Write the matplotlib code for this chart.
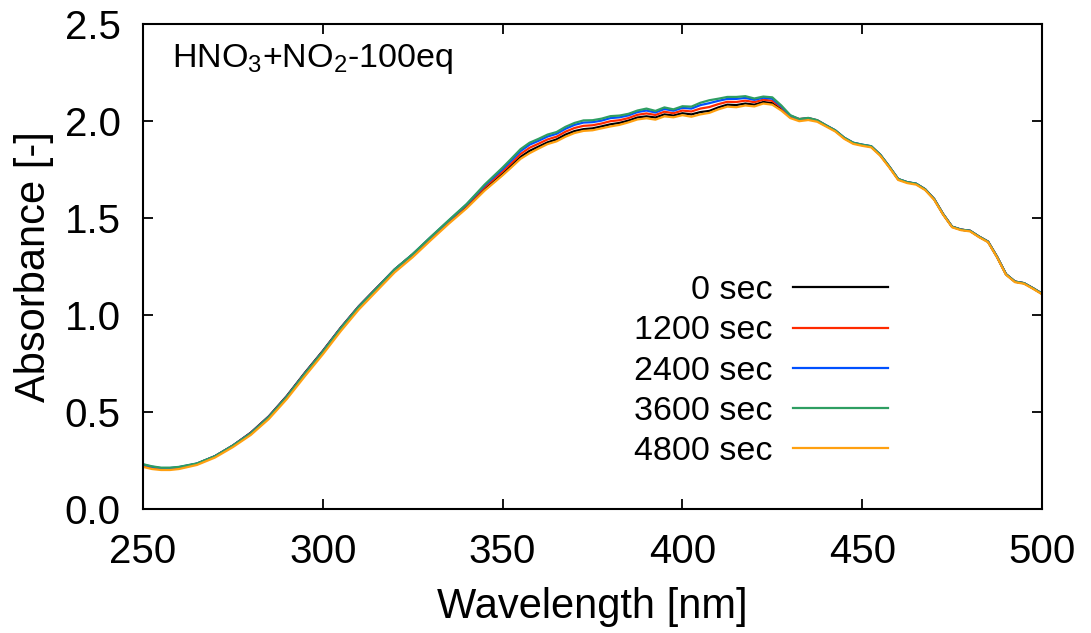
import numpy as np
import matplotlib
matplotlib.use("Agg")
import matplotlib.pyplot as plt
import matplotlib.ticker as ticker

plt.rcParams["font.family"] = ["Liberation Sans", "DejaVu Sans"]
plt.rcParams["mathtext.fontset"] = "custom"
plt.rcParams["mathtext.rm"] = "Liberation Sans"
plt.rcParams["mathtext.it"] = "Liberation Sans:italic"

# ---------------- data ----------------
wavelength = [
    250, 252.5, 255, 257.5, 260, 265, 270, 275, 280, 285, 290, 295, 300,
    305, 310, 315, 320, 325, 330, 335, 340, 345, 350,
    352.5, 355, 357.5, 360, 362.5, 365, 367.5, 370, 372.5, 375, 377.5, 380,
    382.5, 385, 387.5, 390, 392.5, 395, 397.5, 400, 402.5, 405, 407.5, 410,
    412.5, 415, 417.5, 420, 422.5, 425, 427.5,
    430,
    432.5, 435, 437.5, 440,
    442.5, 445, 447.5, 450, 452.5, 455, 457.5, 460, 462.5, 465, 467.5, 470,
    472.5, 475, 477.5, 480, 482.5, 485, 487.5, 490, 492.5, 495, 497.5, 500,
]

# absorbance at 0 sec
abs_0 = [
    0.225, 0.214, 0.208, 0.208, 0.213, 0.233, 0.272, 0.327, 0.394, 0.478, 0.583, 0.702, 0.815,
    0.935, 1.045, 1.140, 1.235, 1.312, 1.398, 1.482, 1.562, 1.652, 1.730,
    1.772, 1.815, 1.846, 1.868, 1.890, 1.905, 1.930, 1.948, 1.958, 1.962, 1.972, 1.983,
    1.990, 2.002, 2.018, 2.024, 2.018, 2.034, 2.028, 2.040, 2.034, 2.046, 2.052, 2.070,
    2.084, 2.082, 2.090, 2.084, 2.098, 2.092, 2.060,
    2.020,
    2.004, 2.010, 2.000, 1.975,
    1.950, 1.912, 1.886, 1.876, 1.868, 1.825, 1.765, 1.700, 1.684, 1.676, 1.648, 1.598,
    1.520, 1.455, 1.440, 1.434, 1.404, 1.378, 1.300, 1.210, 1.172, 1.164, 1.138, 1.110,
]

# gap from the 0 sec curve for the later spectra
diff_1200 = [
    0.002, 0.002, 0.001, 0.001, 0.001, 0.0, 0.0, 0.0,
    -0.002, -0.002, -0.003, -0.003, -0.003, -0.002, -0.001, 0.0, 0.0, 0.0, 0.001, 0.002,
    0.004, 0.007, 0.010,
    0.012, 0.015, 0.016, 0.015, 0.015, 0.014, 0.015, 0.016, 0.017, 0.016, 0.015, 0.016,
    0.014, 0.013, 0.014, 0.015, 0.013, 0.014, 0.012, 0.014, 0.015, 0.018, 0.020, 0.017,
    0.015, 0.016, 0.015, 0.013, 0.012, 0.012, 0.010,
    0.006,
    0.006, 0.005, 0.004, 0.002,
    0.001, 0.001, 0.001, 0.001, 0.001, 0.001, 0.0, 0.0, 0.0, 0.0, 0.0, 0.0,
    0.0, 0.0, 0.0, 0.0, 0.0, 0.0, 0.0, 0.0, 0.0, 0.0, 0.0, 0.0,
]
diff_2400 = [
    0.004, 0.004, 0.003, 0.003, 0.003, 0.001, 0.0, 0.0,
    -0.003, -0.003, -0.004, -0.004, -0.004, -0.003, -0.002, -0.001, 0.0, 0.001, 0.003, 0.004,
    0.008, 0.015, 0.022,
    0.026, 0.030, 0.032, 0.030, 0.030, 0.029, 0.030, 0.032, 0.034, 0.032, 0.030, 0.032,
    0.029, 0.027, 0.028, 0.030, 0.026, 0.028, 0.025, 0.028, 0.030, 0.036, 0.040, 0.034,
    0.030, 0.032, 0.029, 0.025, 0.022, 0.023, 0.015,
    0.008,
    0.005, 0.005, 0.003, 0.002,
    0.002, 0.002, 0.002, 0.002, 0.002, 0.002, 0.001, 0.001, 0.001, 0.001, 0.0, 0.0,
    0.0, 0.0, 0.0, 0.0, 0.0, 0.0, 0.0, 0.0, 0.0, 0.0, 0.0, 0.0,
]
diff_3600 = [
    0.006, 0.006, 0.005, 0.005, 0.004, 0.002, 0.0, 0.0,
    -0.004, -0.004, -0.005, -0.005, -0.005, -0.004, -0.003, -0.002, 0.0, 0.002, 0.004, 0.006,
    0.010, 0.020, 0.030,
    0.035, 0.040, 0.042, 0.040, 0.040, 0.038, 0.040, 0.042, 0.045, 0.042, 0.040, 0.042,
    0.038, 0.035, 0.036, 0.040, 0.034, 0.036, 0.032, 0.036, 0.040, 0.048, 0.055, 0.045,
    0.040, 0.042, 0.038, 0.032, 0.028, 0.030, 0.020,
    0.010,
    0.006, 0.006, 0.004, 0.002,
    0.002, 0.002, 0.002, 0.002, 0.002, 0.002, 0.001, 0.001, 0.001, 0.001, 0.0, 0.0,
    0.0, 0.0, 0.0, 0.0, 0.0, 0.0, 0.0, 0.0, 0.0, 0.0, 0.0, 0.0,
]
diff_4800 = [
    -0.008, -0.008, -0.007, -0.007, -0.007, -0.006, -0.007, -0.008,
    -0.012, -0.014, -0.016, -0.018, -0.018, -0.018, -0.017, -0.016, -0.015, -0.014, -0.013, -0.012,
    -0.012, -0.011, -0.010,
    -0.010, -0.010, -0.012, -0.010, -0.009, -0.010, -0.011, -0.010, -0.009, -0.010, -0.010, -0.011,
    -0.010, -0.009, -0.010, -0.010, -0.011, -0.010, -0.009, -0.010, -0.012, -0.012, -0.010, -0.010,
    -0.010, -0.011, -0.010, -0.009, -0.008, -0.008, -0.006,
    -0.005,
    -0.005, -0.005, -0.004, -0.004,
    -0.004, -0.004, -0.004, -0.004, -0.004, -0.004, -0.004, -0.004, -0.004, -0.004, -0.004, -0.004,
    -0.003, -0.003, -0.003, -0.003, -0.003, -0.003, -0.003, -0.003, -0.003, -0.003, -0.003, -0.003,
]

labels = ["0 sec", "1200 sec", "2400 sec", "3600 sec", "4800 sec"]
colors = ["#000000", "#ff2a00", "#0050ff", "#2e9e62", "#ffa010"]

wl = np.array(wavelength)
base = np.array(abs_0)
series = [base,
          base + np.array(diff_1200),
          base + np.array(diff_2400),
          base + np.array(diff_3600),
          base + np.array(diff_4800)]

# ---------------- plot ----------------
fig = plt.figure(figsize=(10.91, 6.33), dpi=100)
ax = fig.add_axes([143 / 1091, 1 - 509 / 633, 899 / 1091, 485 / 633])

for y, lab, c in zip(series, labels, colors):
    ax.plot(wl, y, color=c, lw=1.6, label=lab)

ax.set_xlim(250, 500)
ax.set_ylim(0, 2.5)
ax.xaxis.set_major_locator(ticker.MultipleLocator(50))
ax.yaxis.set_major_locator(ticker.MultipleLocator(0.5))
ax.yaxis.set_major_formatter(ticker.FormatStrFormatter("%.1f"))
ax.tick_params(direction="in", top=True, right=True, length=7, width=1.3,
               labelsize=29)
ax.tick_params(axis="x", pad=17)
ax.tick_params(axis="y", pad=16)
for s in ax.spines.values():
    s.set_linewidth(1.5)

ax.set_xlabel("Wavelength [nm]", fontsize=30, labelpad=12)
ax.set_ylabel("Absorbance [-]", fontsize=30, labelpad=8)

ax.text(0.032, 0.911, "HNO$_3$+NO$_2$-100eq", transform=ax.transAxes,
        fontsize=24.5, va="baseline", ha="left")

leg = ax.legend(loc="upper right", bbox_to_anchor=(0.829, 0.482),
                frameon=False, markerfirst=False, fontsize=24.5,
                handlelength=2.8, handletextpad=0.6, labelspacing=0.27,
                borderpad=0, borderaxespad=0)
for line in leg.get_lines():
    line.set_linewidth(1.6)

fig.savefig("out.png", dpi=100)
